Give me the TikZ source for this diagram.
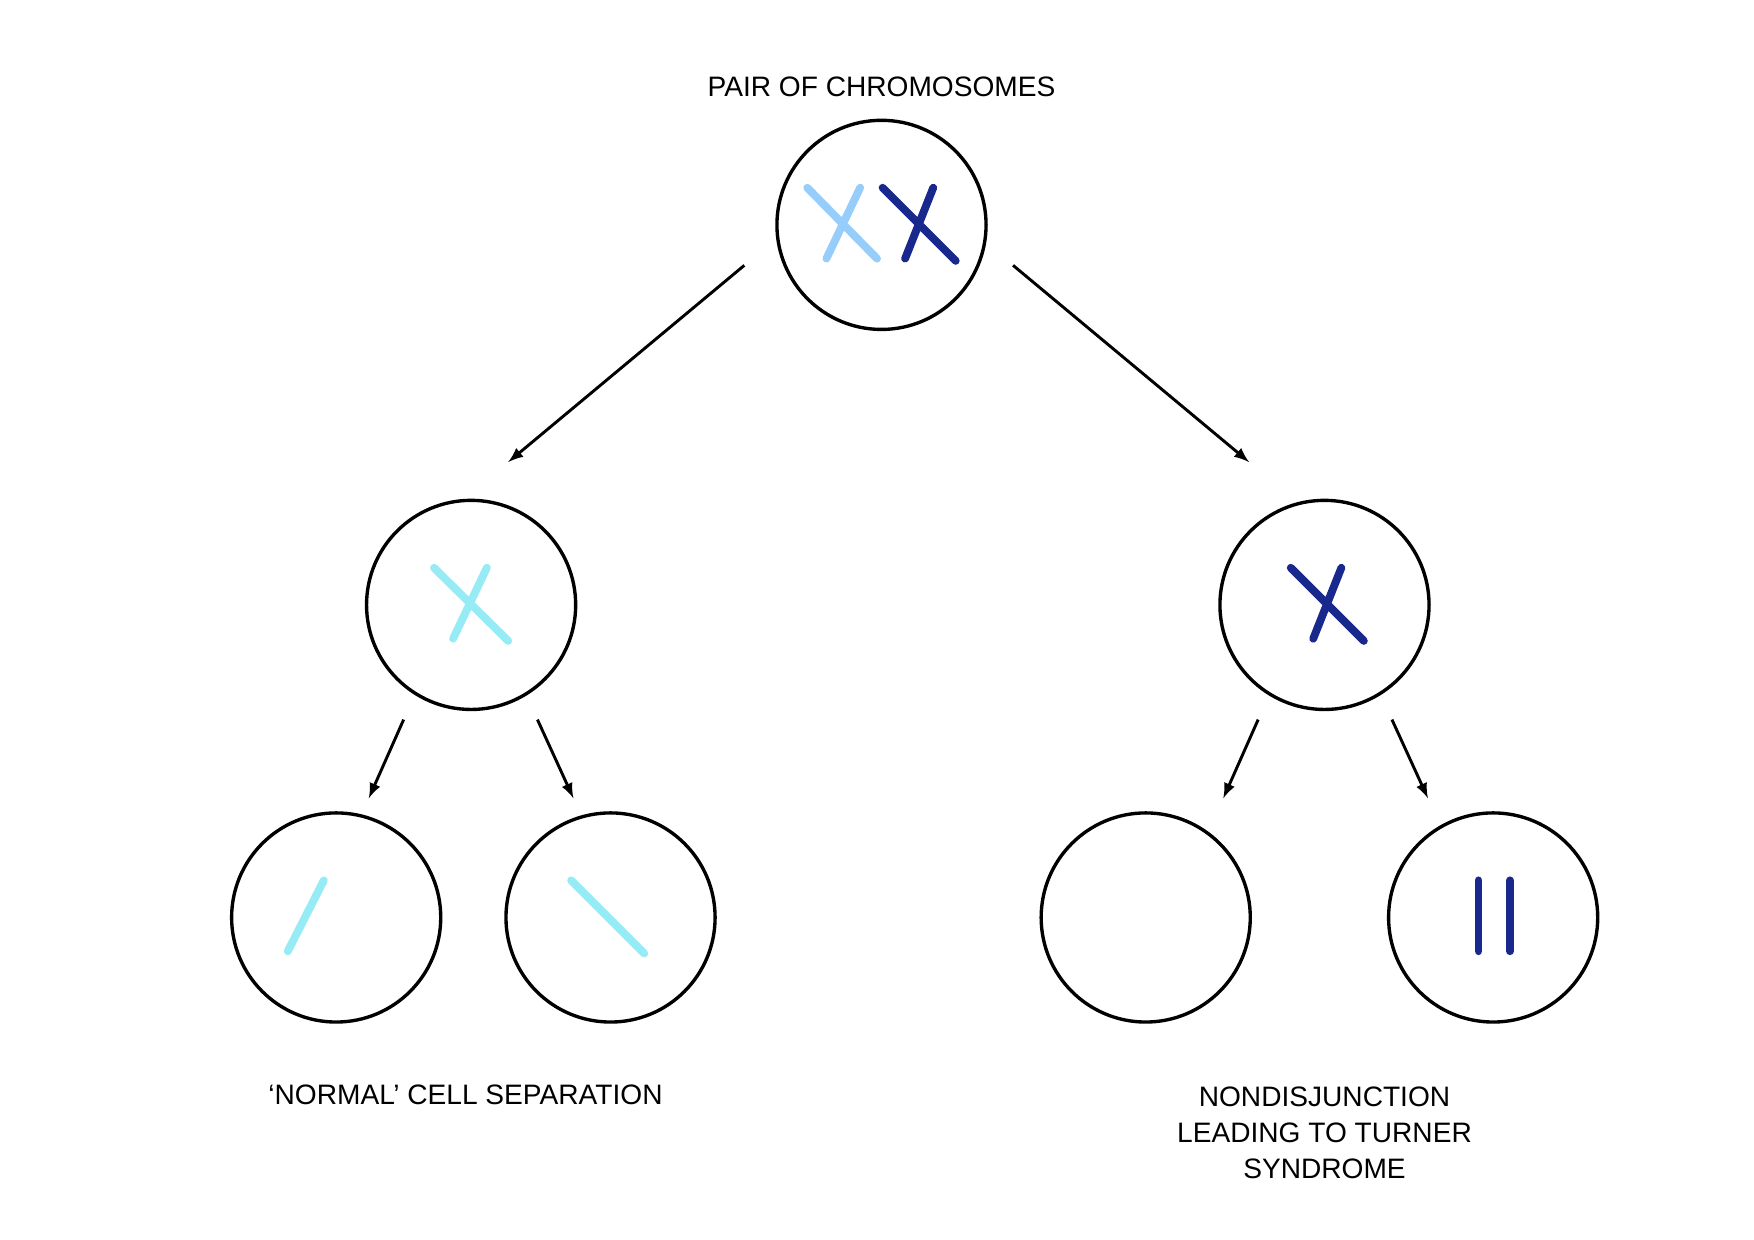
\documentclass[tikz,border=0pt]{standalone}
\usepackage{fontspec}
\setmainfont{Liberation Sans}
\begin{document}
\begin{tikzpicture}[x=0.5pt,y=-0.5pt,
  cell/.style={draw,line width=1.5pt,circle,minimum size=93pt,inner sep=0pt},
  arr/.style={line width=1.3pt,-latex},
  chr/.style={line width=3.5pt,line cap=round},
  lbl/.style={font=\fontsize{12.5}{16}\selectfont,align=center}]
\useasboundingbox (0,0) rectangle (1560,1102);
\definecolor{lb}{RGB}{150,205,250}
\definecolor{cy}{RGB}{150,235,245}
\definecolor{db}{RGB}{25,40,140}
\node[cell] (top) at (784,200) {};
\node[cell] (ml) at (419,538) {};
\node[cell] (mr) at (1178,538) {};
\node[cell] (b1) at (299,816) {};
\node[cell] (b2) at (543,816) {};
\node[cell] (b3) at (1019,816) {};
\node[cell] (b4) at (1328,816) {};
\coordinate (a1s) at (662,236); \coordinate (a1e) at (452,411);
\coordinate (a2s) at (901,236); \coordinate (a2e) at (1111,411);
\coordinate (a3s) at (359,640); \coordinate (a3e) at (328,710);
\coordinate (a4s) at (478,640); \coordinate (a4e) at (510,710);
\coordinate (a5s) at (1119,640); \coordinate (a5e) at (1088,710);
\coordinate (a6s) at (1238,640); \coordinate (a6e) at (1270,710);
\foreach \i in {1,...,6} \draw[arr] (a\i s) -- (a\i e);
\draw[chr,lb] (718,167) -- (780,230) (765,167) -- (735,230);
\draw[chr,db] (785,167) -- (850,232) (830,167) -- (805,230);
\draw[chr,cy] (386,505) -- (452,570) (433,505) -- (403,568);
\draw[chr,db] (1148,505) -- (1213,570) (1193,505) -- (1168,568);
\draw[chr,cy] (288,783) -- (256,846);
\draw[chr,cy] (508,783) -- (573,848);
\draw[chr,db] (1315,783) -- (1315,846) (1343,783) -- (1343,846);
\node[lbl] (t1) at (784,77) {PAIR OF CHROMOSOMES};
\node[lbl] (t2) at (414,974) {‘NORMAL’ CELL SEPARATION};
\node[lbl,anchor=north] (t3) at (1178,960) {NONDISJUNCTION\\LEADING TO TURNER\\SYNDROME};
\end{tikzpicture}
\end{document}
